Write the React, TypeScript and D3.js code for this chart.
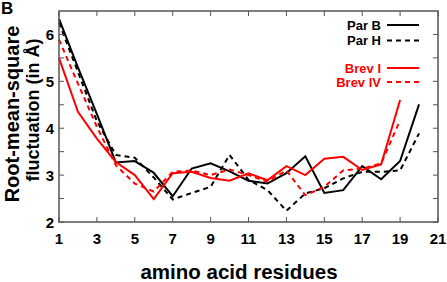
import React from "react";
import * as d3 from "d3";

const residues = d3.range(1, 21);
const parB = [6.33, 5.3, 4.3, 3.27, 3.3, 3.05, 2.55, 3.14, 3.25, 3.08, 2.88, 2.82, 3.04, 3.4, 2.62, 2.68, 3.19, 2.91, 3.3, 4.51];
const parH = [6.25, 5.2, 4.15, 3.43, 3.37, 2.95, 2.48, 2.62, 2.75, 3.43, 2.9, 2.68, 2.24, 2.61, 2.72, 2.93, 3.07, 3.07, 3.1, 3.89];
const brevI = [5.5, 4.35, 3.78, 3.28, 3.0, 2.49, 3.04, 3.07, 2.94, 2.88, 3.04, 2.89, 3.19, 3.0, 3.35, 3.39, 3.11, 3.23, 4.6];
const brevIV = [5.89, 4.95, 4.03, 3.21, 2.82, 2.65, 3.07, 3.1, 3.0, 3.12, 3.0, 2.86, 3.1, 2.57, 2.75, 3.1, 3.14, 3.25, 4.17];
const xTicks = [1, 3, 5, 7, 9, 11, 13, 15, 17, 19, 21];
const yTicks = [2, 2.5, 3, 3.5, 4, 4.5, 5, 5.5, 6];
const yLabels = [2, 3, 4, 5, 6];

const series = [
  { name: "Par B", values: parB, color: "#000", dash: null },
  { name: "Par H", values: parH, color: "#000", dash: "5,4" },
  { name: "Brev I", values: brevI, color: "#ff0000", dash: null },
  { name: "Brev IV", values: brevIV, color: "#ff0000", dash: "5,4" },
];

export default function App() {
  const W = 447, H = 282;
  const left = 59, right = 438, top = 11, bottom = 222;
  const x = d3.scaleLinear().domain([1, 21]).range([left, right]);
  const y = d3.scaleLinear().domain([2, 6.5]).range([bottom, top]);
  const line = d3.line<number>().x((_, i) => x(residues[i])).y((d) => y(d));
  const font = "'Liberation Sans', Arial, sans-serif";
  const axisColor = "#555";
  const legendY = [25, 40.5, 68, 82];
  return (
    <svg width={W} height={H} style={{ position: "absolute", left: 0, top: 0, background: "#fff" }} fontFamily={font}>
      <text x={1} y={14} fontSize={17} fontWeight="bold">B</text>
      {series.map((s) => (
        <path key={s.name} d={line(s.values) || ""} fill="none" stroke={s.color} strokeWidth={2} strokeDasharray={s.dash || undefined} />
      ))}
      <rect x={left} y={top} width={right - left} height={bottom - top} fill="none" stroke={axisColor} strokeWidth={1.5} />
      {xTicks.map((t) => (
        <g key={"x" + t}>
          <line x1={x(t)} x2={x(t)} y1={bottom} y2={bottom - 5} stroke={axisColor} strokeWidth={1} />
          <line x1={x(t)} x2={x(t)} y1={top} y2={top + 5} stroke={axisColor} strokeWidth={1} />
          <text x={x(t)} y={243.5} textAnchor="middle" fontSize={15} fontWeight="bold">{t}</text>
        </g>
      ))}
      {yTicks.map((t) => (
        <g key={"y" + t}>
          <line x1={left} x2={left + 5} y1={y(t)} y2={y(t)} stroke={axisColor} strokeWidth={1} />
          <line x1={right} x2={right - 5} y1={y(t)} y2={y(t)} stroke={axisColor} strokeWidth={1} />
        </g>
      ))}
      {yLabels.map((t) => (
        <text key={"yl" + t} x={left - 5} y={y(t) + 5.5} textAnchor="end" fontSize={15} fontWeight="bold">{t}</text>
      ))}
      <text x={239} y={279} textAnchor="middle" fontSize={20.5} fontWeight="bold">amino acid residues</text>
      <text transform={`translate(19,114) rotate(-90)`} textAnchor="middle" fontSize={20} fontWeight="bold">Root-mean-square</text>
      <text transform={`translate(39,110) rotate(-90)`} textAnchor="middle" fontSize={18} fontWeight="bold">fluctuation (in Å)</text>
      {series.map((s, i) => (
        <g key={"lg" + s.name}>
          <text x={381} y={legendY[i] + 4.5} textAnchor="end" fontSize={13} fontWeight="bold" fill={s.color}>{s.name}</text>
          <line x1={387} x2={419} y1={legendY[i]} y2={legendY[i]} stroke={s.color} strokeWidth={2} strokeDasharray={s.dash || undefined} />
        </g>
      ))}
    </svg>
  );
}
